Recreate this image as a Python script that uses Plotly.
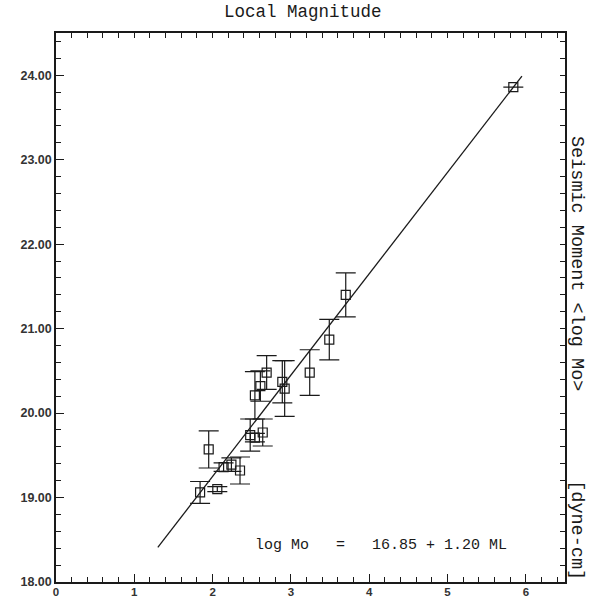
import plotly.graph_objects as go

# Data
ml = [1.84, 1.95, 2.06, 2.14, 2.24, 2.35, 2.48, 2.54, 2.64, 2.54, 2.61, 2.69, 2.89, 2.92, 3.24, 3.49, 3.70, 5.84]
log_mo = [19.06, 19.57, 19.10, 19.36, 19.39, 19.32, 19.74, 19.71, 19.77, 20.21, 20.32, 20.48, 20.37, 20.29, 20.48, 20.87, 21.40, 23.86]
err = [0.13, 0.22, 0.03, 0.05, 0.08, 0.16, 0.19, 0.05, 0.16, 0.28, 0.18, 0.20, 0.25, 0.33, 0.27, 0.24, 0.26, None]

fit_intercept = 16.85
fit_slope = 1.20
fit_x = [1.30, 5.95]
fit_y = [fit_intercept + fit_slope * v for v in fit_x]

x_ticks = [0, 1, 2, 3, 4, 5, 6]
y_ticks = [18, 19, 20, 21, 22, 23, 24]
y_tick_labels = ["18.00", "19.00", "20.00", "21.00", "22.00", "23.00", "24.00"]

title_text = "Local Magnitude"
ylabel_text = "Seismic Moment <log Mo>" + "\u00a0" * 8 + "[dyne-cm]"
eq_text = "log Mo" + "\u00a0" * 3 + "=" + "\u00a0" * 3 + "16.85 + 1.20 ML"

mono = "Liberation Mono, Courier New, monospace"
ink = "#1a1a1a"

fig = go.Figure()

fig.add_trace(go.Scatter(
    x=fit_x, y=fit_y, mode="lines",
    line=dict(color=ink, width=1.3), showlegend=False, hoverinfo="skip"))

fig.add_trace(go.Scatter(
    x=ml, y=log_mo, mode="markers",
    marker=dict(symbol="square-open", size=9, color=ink, line=dict(width=1.2, color=ink)),
    error_y=dict(type="data", array=err, color=ink, thickness=1.2, width=10),
    showlegend=False))

# invisible trace to activate mirrored tick axes
fig.add_trace(go.Scatter(x=[0], y=[18], xaxis="x2", yaxis="y2", mode="markers",
                         marker=dict(opacity=0), showlegend=False, hoverinfo="skip"))

ytickfont = dict(family="Liberation Sans, Arial, sans-serif", size=12.5, color="#333", weight="bold")
xtickfont = dict(family="Liberation Sans, Arial, sans-serif", size=11.5, color="#333", weight="bold")

fig.update_layout(
    width=589, height=599,
    margin=dict(l=56, r=24, t=33, b=17),
    paper_bgcolor="white", plot_bgcolor="white",
    xaxis=dict(range=[0, 6.5], tickmode="array", tickvals=x_ticks, automargin=False,
               ticks="inside", ticklen=8, tickwidth=1.2, tickcolor=ink,
               minor=dict(dtick=0.2, tick0=0, ticks="inside", ticklen=5, tickwidth=1.2, tickcolor=ink),
               showline=True, linewidth=1.5, linecolor=ink, mirror=False,
               showgrid=False, zeroline=False, tickfont=xtickfont, ticklabelstandoff=-2),
    yaxis=dict(range=[18, 24.5], tickmode="array", tickvals=y_ticks, ticktext=y_tick_labels,
               automargin=False,
               ticks="inside", ticklen=8, tickwidth=1.2, tickcolor=ink,
               minor=dict(dtick=0.2, tick0=18, ticks="inside", ticklen=5, tickwidth=1.2, tickcolor=ink),
               showline=True, linewidth=1.5, linecolor=ink, mirror=False,
               showgrid=False, zeroline=False, tickfont=ytickfont),
    xaxis2=dict(range=[0, 6.5], overlaying="x", side="top", tickmode="linear", tick0=0, dtick=0.2,
                automargin=False,
                ticks="inside", ticklen=5, tickwidth=1.2, tickcolor=ink, showticklabels=False,
                showline=True, linewidth=1.5, linecolor=ink, showgrid=False, zeroline=False),
    yaxis2=dict(range=[18, 24.5], overlaying="y", side="right", tickmode="linear", tick0=18, dtick=0.2,
                automargin=False,
                ticks="inside", ticklen=5, tickwidth=1.2, tickcolor=ink, showticklabels=False,
                showline=True, linewidth=1.5, linecolor=ink, showgrid=False, zeroline=False),
    annotations=[
        dict(text=title_text, xref="paper", yref="paper", x=0.485, y=1.0, yshift=21,
             showarrow=False, xanchor="center", yanchor="middle",
             font=dict(family=mono, size=17.5, color=ink)),
        dict(text=ylabel_text, xref="paper", yref="paper", x=1.0, xshift=12, y=0.408,
             showarrow=False, textangle=90, xanchor="center", yanchor="middle",
             font=dict(family=mono, size=18.5, color=ink)),
        dict(text=eq_text, xref="x", yref="y", x=4.15, y=18.43,
             showarrow=False, xanchor="center", yanchor="middle",
             font=dict(family=mono, size=15, color=ink)),
    ],
)

fig.write_html("out.html")
